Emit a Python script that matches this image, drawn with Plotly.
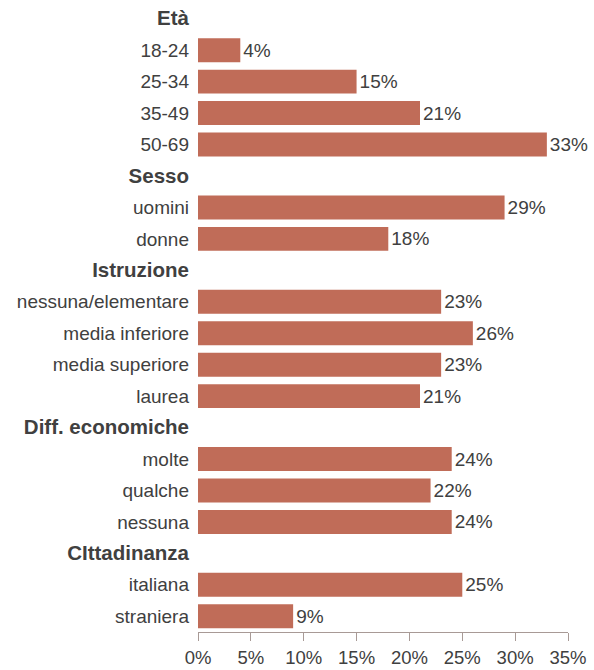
import plotly.graph_objects as go

groups = ["Età", "Sesso", "Istruzione", "Diff. economiche", "CIttadinanza"]
eta_labels = ["18-24", "25-34", "35-49", "50-69"]
eta_values = [4, 15, 21, 33]
sesso_labels = ["uomini", "donne"]
sesso_values = [29, 18]
istr_labels = ["nessuna/elementare", "media inferiore", "media superiore", "laurea"]
istr_values = [23, 26, 23, 21]
diff_labels = ["molte", "qualche", "nessuna"]
diff_values = [24, 22, 24]
citt_labels = ["italiana", "straniera"]
citt_values = [25, 9]
x_ticks = [0, 5, 10, 15, 20, 25, 30, 35]

sections = [
    (groups[0], eta_labels, eta_values),
    (groups[1], sesso_labels, sesso_values),
    (groups[2], istr_labels, istr_values),
    (groups[3], diff_labels, diff_values),
    (groups[4], citt_labels, citt_values),
]

cats, vals, texts = [], [], []
for g, labs, vs in sections:
    cats.append('<span style="font-size:20.5px"><b>' + g + "</b></span>")
    vals.append(None)
    texts.append("")
    for l, v in zip(labs, vs):
        cats.append(l)
        vals.append(v)
        texts.append(f"{v}%")

font_fam = "Liberation Sans, Arial, sans-serif"
txt_col = "#404040"

fig = go.Figure(go.Bar(
    y=cats, x=vals, orientation="h",
    marker=dict(color="#C06C58", line=dict(width=0)),
    text=texts, textposition="outside", cliponaxis=False,
    textfont=dict(family=font_fam, size=19, color=txt_col),
))

fig.update_layout(
    width=594, height=670,
    margin=dict(l=198, r=26, t=3, b=38),
    paper_bgcolor="white", plot_bgcolor="white",
    bargap=0.24, showlegend=False,
    font=dict(family=font_fam, color=txt_col),
)
fig.update_yaxes(
    type="category", categoryorder="array", categoryarray=cats,
    autorange="reversed", showgrid=False, showline=False, ticks="",
    ticklabelstandoff=8, automargin=False,
    tickfont=dict(family=font_fam, size=19, color=txt_col),
)
fig.update_xaxes(
    range=[0, 35], tickvals=x_ticks, ticktext=[f"{t}%" for t in x_ticks],
    showgrid=False, zeroline=False, showline=True, linecolor="#A89A96", linewidth=1,
    ticks="outside", ticklen=8, tickcolor="#A89A96",
    ticklabelstandoff=1, automargin=False,
    tickfont=dict(family=font_fam, size=18.5, color=txt_col),
)

fig.write_html("out.html")
